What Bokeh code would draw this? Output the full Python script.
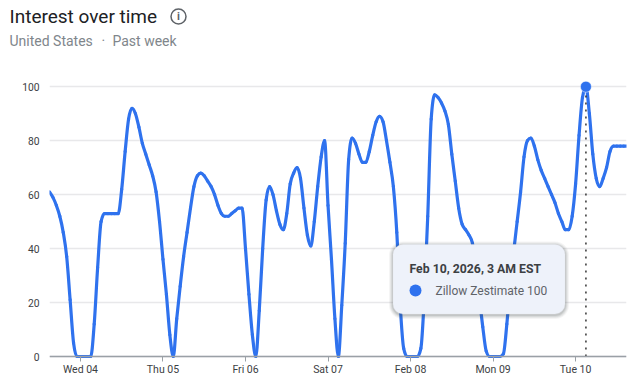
from bokeh.plotting import figure
from bokeh.layouts import column
from bokeh.models import Range1d, FixedTicker, Label, BoxAnnotation, Span
from bokeh.core.properties import value
from bokeh.embed import file_html
from bokeh.resources import INLINE

start_hour = -9
values = [
    61, 59, 56, 52, 46, 37, 21, 5, 0,
    0, 0, 0, 0, 12, 33, 50, 53, 53, 53, 53, 53, 62, 76, 88,
    92, 90, 85, 79, 75, 71, 67, 61, 50,
    36, 23, 8, 0, 14, 26, 37, 46, 55, 63, 67, 68, 67, 65, 63, 60, 56, 53, 52, 52, 53, 54, 55, 55,
    40, 23, 8, 0, 17, 40, 58, 63, 60, 54, 49, 47, 53, 64, 68, 70, 66, 55, 45, 41, 50, 63, 74, 80,
    56, 36, 14, 0, 19, 42, 73, 81, 79, 75, 72, 72, 76, 82, 87, 89, 87, 80, 72, 63, 46, 19, 3, 0,
    0, 0, 0, 3, 22, 52, 88, 97, 96, 94, 91, 86, 75, 65, 55, 49, 47, 45, 42, 33, 22, 11, 2, 0,
    0, 0, 0, 1, 12, 27, 39, 50, 61, 74, 80, 81, 78, 73, 69, 66, 63, 60, 57, 53, 50, 47, 47, 52,
    64, 82, 96, 100, 90, 75, 66, 63, 66, 70, 76, 78, 78, 78, 78, 78,
]
hours = [start_hour + i for i in range(len(values))]
peak_hour = hours[values.index(max(values))]
peak_value = max(values)

tick_hours = [0, 24, 48, 72, 96, 120, 144]
tick_labels = ["Wed 04", "Thu 05", "Fri 06", "Sat 07", "Feb 08", "Mon 09", "Tue 10"]
y_ticks = [0, 20, 40, 60, 80, 100]

title_text = "Interest over time"
sub_left = "United States"
sub_sep = "·"
sub_right = "Past week"
tip_title = "Feb 10, 2026, 3 AM EST"
tip_body = "Zillow Zestimate 100"

BLUE = "#2F72EE"
F = "Roboto"
HEAD = 76
FRAME_L, FRAME_R, FRAME_B = 49, 626, 361

# header strip: its data space is the strip's own pixels
h = figure(width=636, height=HEAD, output_backend="svg", toolbar_location=None,
           x_range=Range1d(0, 636), y_range=Range1d(HEAD, 0),
           min_border=0, x_axis_type=None, y_axis_type=None,
           background_fill_color="white", border_fill_color="white")
h.outline_line_color = None
h.grid.visible = False


def head_text(x, y, text, size, color, weight="normal", align="left"):
    h.text([x], [y], text=[text], text_font=value(F), text_font_size=size, text_color=color,
           text_font_style=weight, text_align=align, text_baseline="middle")


head_text(9, 16, title_text, "19px", "#202124")
head_text(9, 40, sub_left, "14px", "#80868B")
head_text(101, 40, sub_sep, "14px", "#80868B")
head_text(112, 40, sub_right, "14px", "#80868B")
h.scatter([178], [16], size=15, marker="circle", fill_color=None, line_color="#5F6368", line_width=1.5)
head_text(178, 16, "i", "11px", "#5F6368", weight="bold", align="center")

p = figure(width=636, height=383 - HEAD, output_backend="svg", toolbar_location=None,
           x_range=Range1d(start_hour, 158.8), y_range=Range1d(-1.85, 103.8),
           min_border_left=FRAME_L, min_border_right=636 - FRAME_R,
           min_border_top=0, min_border_bottom=383 - FRAME_B,
           background_fill_color="white", border_fill_color="white")
p.outline_line_color = None
p.xgrid.visible = False
p.ygrid.ticker = FixedTicker(ticks=y_ticks)
p.ygrid.grid_line_color = "#E8E8EA"
p.ygrid.grid_line_width = 1.5

for fig in (h, p):
    try:
        fig.frame_align = False
    except AttributeError:
        pass

ax = p.xaxis[0]
ax.ticker = FixedTicker(ticks=tick_hours)
ax.major_label_overrides = dict(zip(tick_hours, tick_labels))
ax.major_label_text_font = F
ax.major_label_text_font_size = "10.5px"
ax.major_label_text_color = "#3C4043"
ax.axis_line_color = None
ax.major_tick_line_color = "#9AA0A6"
ax.major_tick_out = 0
ax.major_tick_in = 5
ax.major_label_standoff = 1
ax.minor_tick_line_color = None

ay = p.yaxis[0]
ay.ticker = FixedTicker(ticks=y_ticks)
ay.major_label_text_font = F
ay.major_label_text_font_size = "10.3px"
ay.major_label_text_color = "#3C4043"
ay.axis_line_color = None
ay.major_tick_line_color = None
ay.minor_tick_line_color = None
ay.major_tick_out = 0
ay.major_tick_in = 0
ay.major_label_standoff = 10

p.add_layout(Span(location=0, dimension="width", line_color="#9AA0A6", line_width=1.5))


def monotone_slopes(xs, ys):
    n = len(xs)
    sec = [(ys[i + 1] - ys[i]) / (xs[i + 1] - xs[i]) for i in range(n - 1)]
    m = [0.0] * n
    m[0], m[-1] = sec[0], sec[-1]
    for i in range(1, n - 1):
        a, b = sec[i - 1], sec[i]
        if a * b > 0:
            m[i] = (a + b) / 2 if abs(a - b) < 1e-9 else min(abs(a), abs(b), abs(a + b) / 4) * 2 * (1 if a > 0 else -1)
    return m


m = monotone_slopes(hours, values)
n = len(hours) - 1
p.bezier(x0=hours[:-1], y0=values[:-1], x1=hours[1:], y1=values[1:],
         cx0=[hours[i] + 1 / 3 for i in range(n)], cy0=[values[i] + m[i] / 3 for i in range(n)],
         cx1=[hours[i + 1] - 1 / 3 for i in range(n)], cy1=[values[i + 1] - m[i + 1] / 3 for i in range(n)],
         line_color=BLUE, line_width=3.2, line_cap="round")
p.line([peak_hour, peak_hour], [0, peak_value], line_color="#333333", line_width=1.5, line_dash="2 5")
p.scatter([peak_hour], [peak_value], size=11, marker="circle", fill_color=BLUE, line_color="white", line_width=0.5)


def label(x, y, text, size, color, weight="normal"):
    p.add_layout(Label(x=x - FRAME_L, y=FRAME_B - y, x_units="screen", y_units="screen", text=text,
                       text_font=F, text_font_size=size, text_color=color, text_font_style=weight,
                       text_align="left", text_baseline="middle", level="overlay"))


def box(l, t, r, b, fill, line=None, alpha=1.0, radius=0, lw=1):
    p.add_layout(BoxAnnotation(left=l, right=r, top=t - HEAD, bottom=b - HEAD,
                               left_units="canvas", right_units="canvas",
                               top_units="canvas", bottom_units="canvas",
                               fill_color=fill, fill_alpha=alpha, line_color=line, line_width=lw,
                               border_radius=radius, level="overlay", editable=False))


for g, a in ((4, 0.05), (3, 0.07), (2, 0.09), (1, 0.12)):
    box(392.5 - g, 244 - g + 1, 564.5 + g, 313.5 + g + 1, "#3C4043", alpha=a, radius=10 + g)
box(392.5, 244, 564.5, 313.5, "#EEF2FA", line="#E3E5EA", radius=10)
box(409, 284, 421, 296, BLUE, radius=6)

label(409, 268, tip_title, "12.25px", "#3C4043", weight="bold")
label(435, 290, tip_body, "12px", "#5F6368")

page = column(h, p, spacing=0)
open("out.html", "w").write(file_html(page, INLINE))
